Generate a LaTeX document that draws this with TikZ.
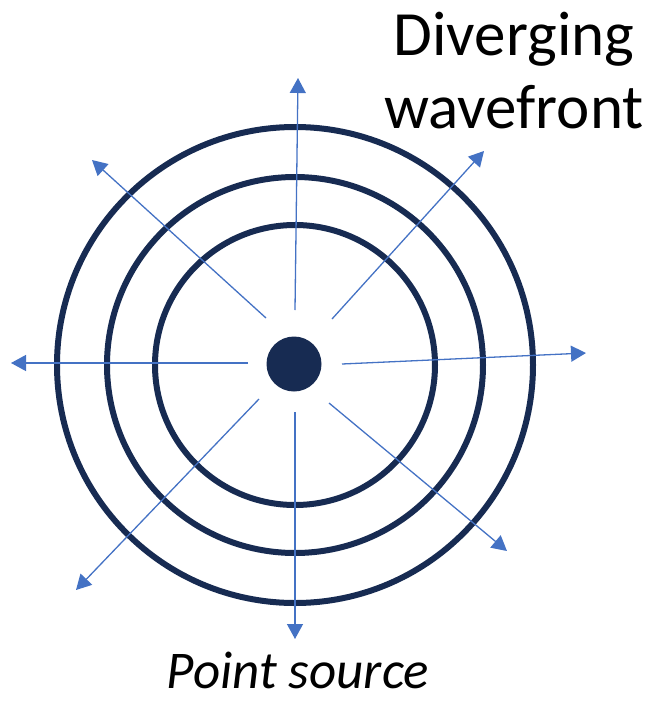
\documentclass[tikz,border=0pt]{standalone}
\usepackage{fontspec}
\setmainfont{Carlito}
\usetikzlibrary{arrows.meta}

\definecolor{ringcol}{RGB}{23,43,82}
\definecolor{raycol}{RGB}{68,114,196}

\begin{document}
\begin{tikzpicture}[x=1pt,y=-1pt,
    ray/.style={draw=raycol, line width=1.3pt, -{Triangle[length=15pt,width=16pt]}},
    wave/.style={draw=ringcol, line width=6pt}]
    \useasboundingbox (0,0) rectangle (652,705);

    % wavefronts round the source
    \foreach \r in {140,188,238}
        \draw[wave] (295,365) circle[radius=\r pt];
    \node[circle, fill=ringcol, minimum size=55pt, inner sep=0pt] (src) at (294,364) {};

    % rays
    \foreach \sx/\sy/\ex/\ey [count=\i] in {295/310/298/78, 295/412/295/639,
        248/363/11/363, 342/364/586/353, 266/318/92/160, 332/319/484/151,
        259/399/76/590, 329/403/507/551}
    {
        \coordinate (s\i) at (\sx,\sy);
        \coordinate (e\i) at (\ex,\ey);
        \draw[ray] (s\i) -- (e\i);
    }

    \node[anchor=base, font=\fontsize{63}{73}\selectfont] (title1) at (514,55) {Diverging};
    \node[anchor=base, font=\fontsize{63}{73}\selectfont] (title2) at (514,128) {wavefront};
    \node[anchor=base, font=\itshape\fontsize{53}{60}\selectfont] (label) at (298,688) {Point source};
\end{tikzpicture}
\end{document}
